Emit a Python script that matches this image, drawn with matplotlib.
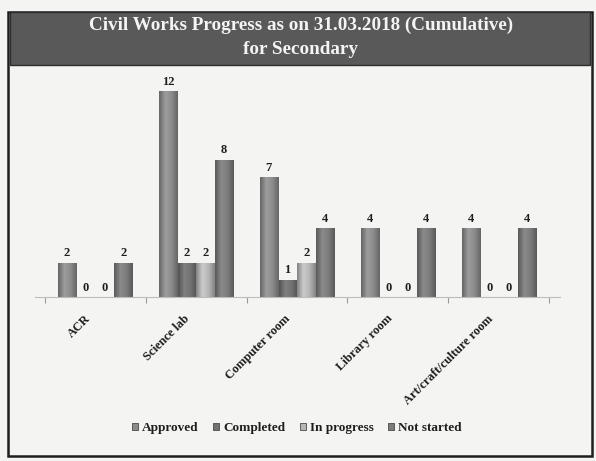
import matplotlib
matplotlib.use("Agg")
import matplotlib.pyplot as plt
import matplotlib.transforms as mtransforms
from matplotlib.patches import Rectangle
from matplotlib.colors import LinearSegmentedColormap, to_rgb
import numpy as np

categories = ["ACR", "Science lab", "Computer room", "Library room", "Art/craft/culture room"]
series_names = ["Approved", "Completed", "In progress", "Not started"]
approved = [2, 12, 7, 4, 4]
completed = [0, 2, 1, 0, 0]
in_progress = [0, 2, 2, 0, 0]
not_started = [2, 8, 4, 4, 4]
title_text = "Civil Works Progress as on 31.03.2018 (Cumulative)\nfor Secondary"

colors = ["#8c8c8c", "#727272", "#b6b6b6", "#7c7c7c"]
serif = ["Liberation Serif", "DejaVu Serif"]

fig = plt.figure(figsize=(5.96, 4.61), dpi=100)
fig.patch.set_facecolor("#f4f4f2")

W, H = 596.0, 461.0
# outer frame
fig.add_artist(Rectangle((8 / W, 1 - 456 / H), 584 / W, 444 / H,
                         transform=fig.transFigure, fill=False, edgecolor="#1e1e1e", lw=1.8))
# title banner
fig.add_artist(Rectangle((10 / W, 1 - 65 / H), 580 / W, 53 / H,
                         transform=fig.transFigure, facecolor="#595959", edgecolor="#2e2e2e", lw=1))
fig.text(0.505, 1 - 37.5 / H, title_text, ha="center", va="center", color="#f4f4f4",
         fontsize=13.8, fontweight="bold", family=serif, linespacing=1.5)

ax = fig.add_axes([34.5 / W, 1 - 297 / H, 525 / W, 216 / H])
ax.set_facecolor("none")
x = np.arange(len(categories))
width = 0.18
step = 0.186
all_series = [approved, completed, in_progress, not_started]


def shade_cmap(c):
    r, g, b = to_rgb(c)
    dark = (r * 0.72, g * 0.72, b * 0.72)
    light = tuple(min(1, v * 1.12) for v in (r, g, b))
    return LinearSegmentedColormap.from_list("cyl", [dark, light, (r, g, b), dark])


grad = np.linspace(0, 1, 64).reshape(1, -1)
for i, (vals, name, c) in enumerate(zip(all_series, series_names, colors)):
    pos = x + (i - 1.5) * step
    bars = ax.bar(pos, vals, width, color=c, edgecolor="#4a4a4a", linewidth=0.6, label=name, zorder=2)
    cm = shade_cmap(c)
    for p, v, bar in zip(pos, vals, bars):
        if v > 0:
            im = ax.imshow(grad, extent=(p - width / 2, p + width / 2, 0, v), cmap=cm,
                           aspect="auto", zorder=2.5, interpolation="bicubic")
            im.set_clip_path(bar)
        ax.text(p, v + 0.2, str(v), ha="center", va="bottom", fontsize=9,
                fontweight="bold", family=serif, color="#1e1e1e", zorder=3)

ax.set_xlim(-0.6, 4.6)
ax.set_ylim(0, 12.6)
ax.set_yticks([])
for s in ["top", "right", "left"]:
    ax.spines[s].set_visible(False)
ax.spines["bottom"].set_color("#bdbdbd")
ax.spines["bottom"].set_linewidth(0.8)
ax.set_xticks(x)
ax.set_xticks(np.arange(-0.5, len(categories), 1.0), minor=True)
ax.tick_params(axis="x", which="major", length=0, pad=0)
ax.tick_params(axis="x", which="minor", length=4, width=0.8, color="#9a9a9a", direction="out")
ax.set_xticklabels(categories, rotation=45, ha="right", va="center", rotation_mode="anchor",
                   fontsize=9, fontweight="bold", family=serif, color="#1e1e1e")
offsets = [-6, -8, -9, -7, -7]
for lab, off in zip(ax.get_xticklabels(), offsets):
    lab.set_transform(lab.get_transform() + mtransforms.ScaledTranslation(off / 100, -20 / 100, fig.dpi_scale_trans))

leg = fig.legend(loc="center", bbox_to_anchor=(297 / W, 1 - 428 / H), ncol=4, frameon=False,
                 handlelength=0.45, handleheight=0.45, handletextpad=0.3, columnspacing=1.1,
                 prop={"family": serif, "weight": "bold", "size": 9.5})
for t in leg.get_texts():
    t.set_color("#1e1e1e")

fig.savefig("out.png", dpi=100, facecolor=fig.get_facecolor())
